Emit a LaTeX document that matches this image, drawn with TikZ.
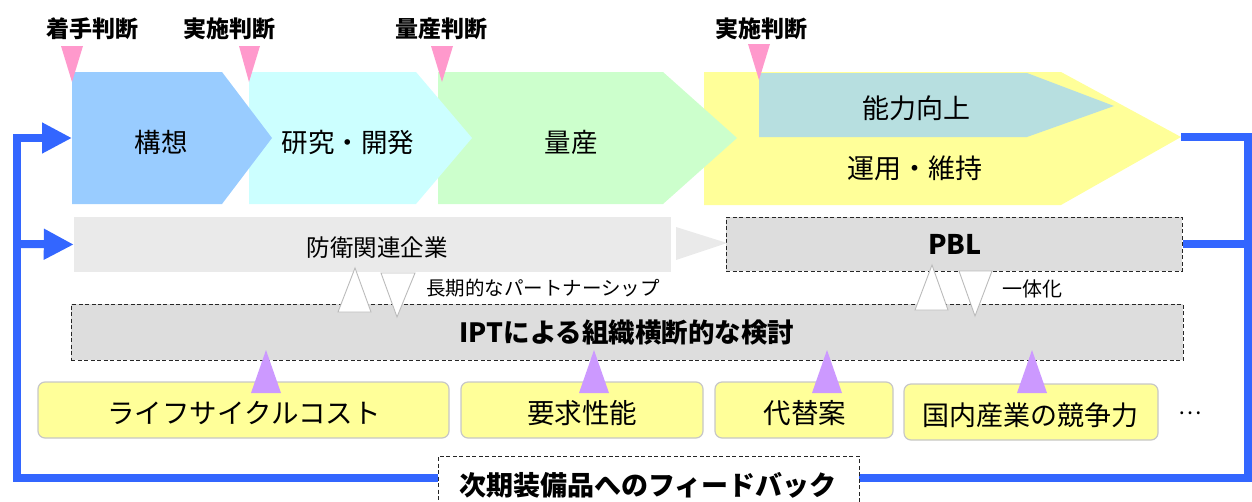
\documentclass[tikz,border=0pt]{standalone}
\usepackage{fontspec}
\setmainfont{Noto Sans CJK JP}
\usetikzlibrary{arrows.meta}
\definecolor{cA}{HTML}{99CCFF}
\definecolor{cB}{HTML}{CCFFFF}
\definecolor{cC}{HTML}{CCFFCC}
\definecolor{cD}{HTML}{FFFF99}
\definecolor{cE}{RGB}{183,223,224}
\definecolor{pinkm}{HTML}{FF99CC}
\definecolor{purm}{HTML}{CC99FF}
\definecolor{fbblue}{HTML}{3366FF}
\definecolor{lgrey}{HTML}{EAEAEA}
\definecolor{mgrey}{HTML}{DDDDDD}
\definecolor{tgrey}{HTML}{BBBBBB}
\tikzset{
  fsz/.style={font=\fontsize{#1}{#1}\selectfont},
  fszb/.style={font=\fontsize{#1}{#1}\selectfont\bfseries},
  txt/.style={inner sep=0pt, anchor=center},
  dbox/.style={draw=black!85, dash pattern=on 4pt off 2.5pt, line width=1pt, fill=mgrey, inner sep=0pt},
  ybox/.style={draw=black!22, line width=1.2pt, fill=cD, rounded corners=7pt, inner sep=0pt, minimum height=56pt},
  blueline/.style={draw=fbblue, line width=8pt},
  bluearrow/.style={blueline, -{Triangle[length=30pt,width=29pt]}},
  wtri/.style={draw=tgrey, fill=white, line width=0.9pt},
  ptri/.style={fill=purm},
  pktri/.style={fill=pinkm},
}
\begin{document}
\begin{tikzpicture}[x=1pt,y=-1pt]
\useasboundingbox (0,0) rectangle (1252,501);
\clip (0,0) rectangle (1252,501);

% chevrons (back to front)
\fill[cD] (704,72) -- (1061,72) -- (1181,137) -- (1061,205) -- (704,205) -- cycle;
\fill[cE] (759,73) -- (1027,73) -- (1114,106) -- (1027,137) -- (759,137) -- cycle;
\fill[cC] (438,72) -- (663,72) -- (737,138) -- (663,204) -- (438,204) -- cycle;
\fill[cB] (249,72) -- (416,72) -- (472,138) -- (416,204) -- (249,204) -- cycle;
\fill[cA] (72,72) -- (222,72) -- (272,138) -- (222,204) -- (72,204) -- cycle;

\node[txt, fsz=26.5] (kousou) at (161,142) {構想};
\node[txt, fsz=26.5] (kenkyu) at (348,142) {研究・開発};
\node[txt, fsz=26.5] (ryousan) at (571,142) {量産};
\node[txt, fsz=27] (nouryoku) at (916,108) {能力向上};
\node[txt, fsz=27] (unyou) at (915,168) {運用・維持};

\coordinate (tip4) at (1181,137);
\coordinate (start1) at (72,138);

% pink markers
\fill[pktri] (61,46) -- (83,46) -- (72,82) -- cycle;
\fill[pktri] (239,46) -- (260,46) -- (249,82) -- cycle;
\fill[pktri] (431,46) -- (453,46) -- (442,82) -- cycle;
\fill[pktri] (748,44) -- (770,44) -- (759,80) -- cycle;
\node[txt, fszb=23] (j1) at (92,29) {着手判断};
\node[txt, fszb=23] (j2) at (229,29) {実施判断};
\node[txt, fszb=23] (j3) at (441,29) {量産判断};
\node[txt, fszb=23] (j4) at (761,29) {実施判断};

% middle boxes
\node[fill=lgrey, inner sep=0pt, minimum width=597pt, minimum height=55pt] (kigyou) at (372.5,244.5) {};
\node[txt, fsz=23.5] (kigyoutxt) at (377,248) {防衛関連企業};
\node[dbox, minimum width=456pt, minimum height=54pt] (pbl) at (954,244) {};
\node[txt, fszb=27] (pbltxt) at (955,244) {PBL};
\fill[lgrey] (676,227) -- (727,243) -- (676,260) -- cycle;

\node[dbox, minimum width=1112pt, minimum height=56pt] (ipt) at (627,332) {};
\node[txt, fszb=26.5] (ipttxt) at (627,333) {IPTによる組織横断的な検討};

% white triangles
\draw[wtri] (338,312) -- (371,312) -- (355,268) -- cycle;
\draw[wtri] (381,273) -- (415,273) -- (397,317) -- cycle;
\draw[wtri] (915,310) -- (948,310) -- (932,265) -- cycle;
\draw[wtri] (959,271) -- (992,271) -- (975,316) -- cycle;
\node[txt, fsz=19.5, anchor=west] (partner) at (426,288) {長期的なパートナーシップ};
\node[txt, fsz=20, anchor=west] (ittai) at (1002,289) {一体化};

% bottom boxes
\node[ybox, minimum width=411pt] (b1) at (243.5,410) {};
\node[ybox, minimum width=242pt] (b2) at (582,410) {};
\node[ybox, minimum width=178pt] (b3) at (804,410) {};
\node[ybox, minimum width=254pt] (b4) at (1031,412) {};
\node[txt, fsz=27.5] (t1) at (244,413) {ライフサイクルコスト};
\node[txt, fsz=27.5] (t2) at (582,413) {要求性能};
\node[txt, fsz=27.5] (t3) at (805,413) {代替案};
\node[txt, fsz=27] (t4) at (1030,415) {国内産業の競争力};
\node[txt, fsz=22] (dots) at (1190,413) {…};

% purple triangles
\fill[ptri] (251,393) -- (281,393) -- (266,350) -- cycle;
\fill[ptri] (579,393) -- (609,393) -- (594,350) -- cycle;
\fill[ptri] (812,393) -- (842,393) -- (827,350) -- cycle;
\fill[ptri] (1017,393) -- (1047,393) -- (1032,350) -- cycle;

% feedback loop
\coordinate (rt) at (1248,137);
\coordinate (rm) at (1248,244);
\coordinate (rb) at (1248,478);
\coordinate (lb) at (17,478);
\coordinate (lm) at (17,244);
\coordinate (lt) at (17,138);
\draw[blueline] (tip4) -- (rt) -- (rb) -- (lb) -- (lt) -- ++(10,0);
\draw[bluearrow] (lt) -- (start1);
\draw[blueline] (pbl.east) -- (rm);
\draw[bluearrow] (lm) -- (kigyou.west);

\node[draw=black!85, dash pattern=on 4pt off 2.5pt, line width=1pt, fill=white, inner sep=0pt, minimum width=421pt, minimum height=54pt] (fb) at (648.5,483) {};
\node[txt, fszb=27] (fbtxt) at (648,485) {次期装備品へのフィードバック};
\end{tikzpicture}
\end{document}
